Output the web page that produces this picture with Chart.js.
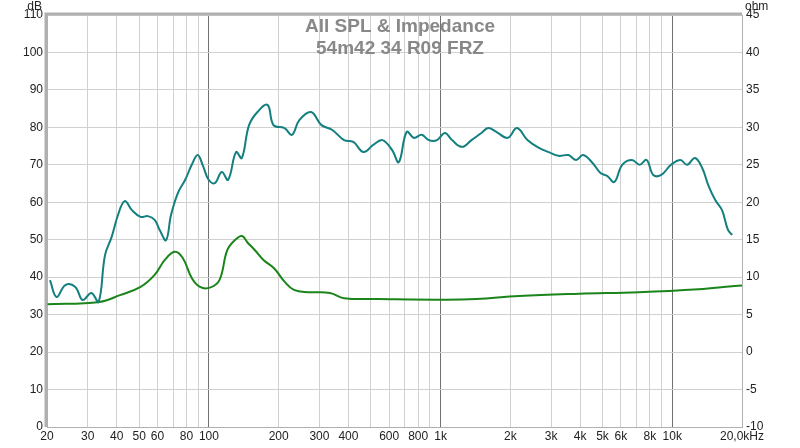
<!DOCTYPE html>
<html><head><meta charset="utf-8">
<script src="https://cdn.jsdelivr.net/npm/chart.js@4/dist/chart.umd.min.js"></script>
<style>html,body{margin:0;padding:0;background:#fff}#w{position:relative;width:800px;height:448px}</style>
</head><body><div id="w"><canvas id="c" width="800" height="448"></canvas></div>
<script>
const splFreq=[20.6,22,24,26.5,28.5,31.1,33.4,35.6,38,40.5,43.3,46.5,50.7,54.5,58.3,61.3,65.3,68.6,73.5,79,84.3,89.4,93.9,99.7,106,113.6,121,131,138.6,149,162,179,190,212,228,246,276,306,341,383,420,465,512,561,618,660,714,767,828,890,965,1044,1120,1236,1360,1500,1605,1740,1950,2136,2370,2660,2930,3230,3560,3850,4120,4530,4900,5250,5620,6080,6700,7230,7750,8280,8960,9870,10850,11580,12540,13480,14300,15330,16400,17400,18150];
const splDb=[39.2,34.7,37.9,37.4,33.9,35.8,33.4,45.9,50.7,56.6,60.3,57.9,56.1,56.3,55.3,52.6,49.9,56.6,62.5,66,70,72.6,70,66,65.1,68.1,66,73.4,71.8,80.6,84.1,86,80.6,79.8,78,82,84.1,80.6,79.3,76.6,76.1,73.4,75.3,76.6,73.9,70.7,78.8,77.2,78,76.6,76.6,78.5,76.6,74.8,76.6,78.5,79.8,78.8,77.2,79.8,76.6,74.5,73.4,72.4,72.6,71.3,72.6,70.5,67.8,67,65.4,70,71.3,70,71.3,67.3,67.3,70,71.3,70,71.8,69.1,64.6,60.6,57.9,52.6,51.3];
const impFreq=[20,33.7,41.3,50.7,58.3,64.5,71.1,77,84.3,91.5,101,111,120,130,139,147,158,172,191,212,233,268,333,383,540,1060,1430,2180,3960,7150,13000,18100,20000];
const impOhm=[6.4,6.7,7.6,8.7,10.3,12.3,13.4,12.6,9.9,8.7,8.6,9.6,13.6,15,15.5,14.6,13.6,12.3,11.2,9.4,8.3,8.0,7.9,7.2,7.1,7.0,7.1,7.5,7.8,8.0,8.4,8.8,8.9];
const xTicks=[20,30,40,50,60,70,80,90,100,200,300,400,500,600,700,800,900,1000,2000,3000,4000,5000,6000,7000,8000,9000,10000,20000];
const xLabels={20:'20',30:'30',40:'40',50:'50',60:'60',80:'80',100:'100',200:'200',300:'300',400:'400',600:'600',800:'800',1000:'1k',2000:'2k',3000:'3k',4000:'4k',5000:'5k',6000:'6k',8000:'8k',10000:'10k',20000:'20,0kHz'};
const title=['All SPL & Impedance','54m42 34 R09 FRZ'];
const font={family:'Liberation Sans, Arial',size:12};
const deco={id:'deco',afterDraw(ch){const c=ch.ctx,a=ch.chartArea;c.save();
c.strokeStyle='#b0b0b0';c.lineWidth=3;c.beginPath();c.moveTo(a.left-1,a.bottom);c.lineTo(a.left-1,a.top-1);c.lineTo(a.right,a.top-1);c.stroke();
c.fillStyle='#222';c.font='12px Liberation Sans, Arial';c.textAlign='right';c.fillText('dB',a.left-5,10);c.textAlign='left';c.fillText('ohm',a.right+3,10);
c.fillStyle='#888';c.font='bold 19px Liberation Sans, Arial';c.textAlign='center';c.fillText(title[0],400,32);c.fillText(title[1],400,54);c.restore();}};
const gridCol=ctx=>{const v=ctx.tick&&ctx.tick.value;return (v===100||v===1000||v===10000)?'#707070':'#d0d0d0';};
new Chart(document.getElementById('c'),{type:'line',
data:{datasets:[
{data:splFreq.map((f,i)=>({x:f,y:splDb[i]})),borderColor:'#137f7f',borderWidth:2,pointRadius:0,tension:0.4,yAxisID:'y'},
{data:impFreq.map((f,i)=>({x:f,y:impOhm[i]})),borderColor:'#1a851a',borderWidth:2,pointRadius:0,tension:0.4,yAxisID:'y2'}]},
options:{animation:false,responsive:false,layout:{padding:{top:15,left:0,right:0,bottom:0}},
plugins:{legend:{display:false},tooltip:{enabled:false}},
scales:{
x:{type:'logarithmic',min:20,max:20000,afterBuildTicks(s){s.ticks=xTicks.map(v=>({value:v}));},
 afterFit(s){s.height=21;},
 ticks:{autoSkip:false,maxRotation:0,color:'#222',font,padding:2,callback:(v)=>xLabels[v]||''},
 grid:{color:gridCol,drawTicks:false},border:{color:'#b0b0b0'}},
y:{position:'left',min:0,max:110,afterFit(s){s.width=47;},ticks:{stepSize:10,color:'#222',font,padding:4},grid:{color:'#d0d0d0',drawTicks:false},border:{color:'#b0b0b0'}},
y2:{position:'right',min:-10,max:45,afterFit(s){s.width=58;},ticks:{stepSize:5,color:'#222',font,padding:4},grid:{display:false,drawTicks:false},border:{color:'#b0b0b0'}}
}},plugins:[deco]});
</script></body></html>
